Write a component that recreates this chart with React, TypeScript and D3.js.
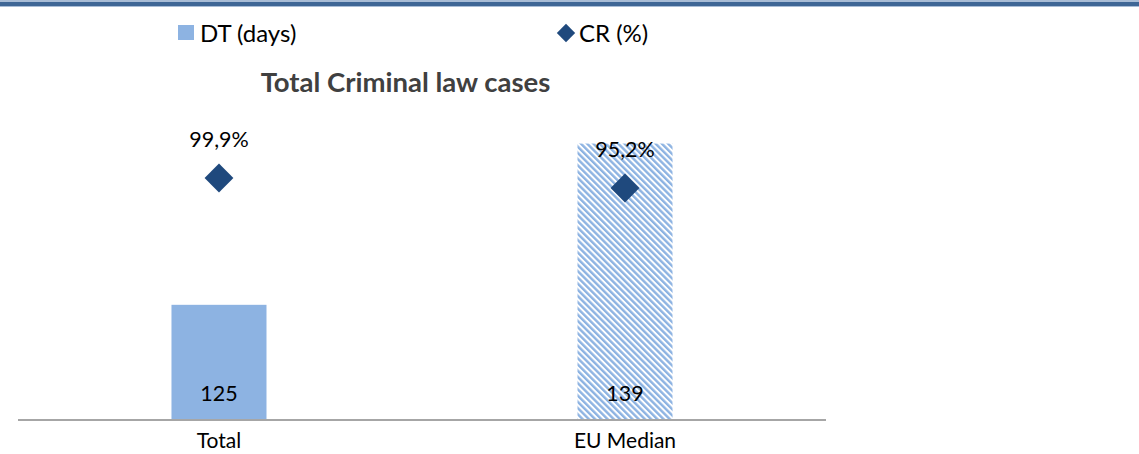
import React from "react";
import * as d3 from "d3";

const categories = ["Total", "EU Median"];
const dtValues = [125, 139];
const crValues = [99.9, 95.2];
const crLabels = ["99,9%", "95,2%"];
const dtLabels = ["125", "139"];
const legendLabels = ["DT (days)", "CR (%)"];
const title = "Total Criminal law cases";

const W = 1139;
const H = 454;
const FONT = "Lato, 'Open Sans', sans-serif";

export default function App() {
  const x = d3.scaleBand<string>().domain(categories).range([18, 826]).paddingInner(0.766).paddingOuter(0.378);
  const yDT = d3.scaleLinear().domain([115, 142]).range([420, 109]);
  const yCR = d3.scaleLinear().domain([0, 100]).range([390.6, 177.8]);
  const bw = x.bandwidth();
  const diamond = d3.symbol().type(d3.symbolDiamond2).size(530)();
  const diamondSmall = d3.symbol().type(d3.symbolDiamond2).size(215)();

  return (
    <svg width={W} height={H} style={{ position: "absolute", left: 0, top: 0 }}>
      <defs>
        <pattern id="hatch" patternUnits="userSpaceOnUse" width="4.4" height="4.4" patternTransform="rotate(-45)">
          <rect width="4.4" height="4.4" fill="#ffffff" />
          <rect width="2.4" height="4.4" fill="#8db3e2" />
        </pattern>
      </defs>
      <rect x={0} y={0} width={W} height={H} fill="#ffffff" />
      {/* top rule */}
      <rect x={0} y={0} width={W} height={2} fill="#a9bdd6" />
      <rect x={0} y={2} width={W} height={4} fill="#3f6796" />
      <rect x={0} y={6} width={W} height={1} fill="#a9bdd6" />

      {/* legend */}
      <rect x={178} y={25} width={16} height={15} fill="#8db3e2" />
      <text x={200} y={42} fontFamily={FONT} fontSize={24} fill="#000">{legendLabels[0]}</text>
      <path d={diamondSmall} transform="translate(566,33)" fill="#1f497d" />
      <text x={579} y={42} fontFamily={FONT} fontSize={24} fill="#000">{legendLabels[1]}</text>

      {/* title */}
      <text x={405.5} y={92} textAnchor="middle" fontFamily={FONT} fontWeight="bold" fontSize={27.5} fill="#404040">{title}</text>

      {/* bars */}
      {categories.map((c, i) => (
        <rect key={c} x={x(c)} y={yDT(dtValues[i])} width={bw} height={yDT.range()[0] - yDT(dtValues[i])}
          fill={i === 0 ? "#8db3e2" : "url(#hatch)"} />
      ))}

      {/* axis */}
      <line x1={18} x2={826} y1={420} y2={420} stroke="#a6a6a6" strokeWidth={2} />

      {/* bar labels */}
      {categories.map((c, i) => (
        <text key={c} x={x(c)! + bw / 2} y={401} textAnchor="middle" fontFamily={FONT} fontSize={21.5} fill="#000">{dtLabels[i]}</text>
      ))}

      {/* diamonds */}
      {categories.map((c, i) => (
        <g key={c}>
          <path d={diamond} transform={`translate(${x(c)! + bw / 2},${yCR(crValues[i])})`} fill="#1f497d" />
          <text x={x(c)! + bw / 2} y={yCR(crValues[i]) - 31} textAnchor="middle" fontFamily={FONT} fontSize={21.5} fill="#000">{crLabels[i]}</text>
        </g>
      ))}

      {/* category labels */}
      {categories.map((c) => (
        <text key={c} x={x(c)! + bw / 2} y={448} textAnchor="middle" fontFamily={FONT} fontSize={21} fill="#000">{c}</text>
      ))}
    </svg>
  );
}
